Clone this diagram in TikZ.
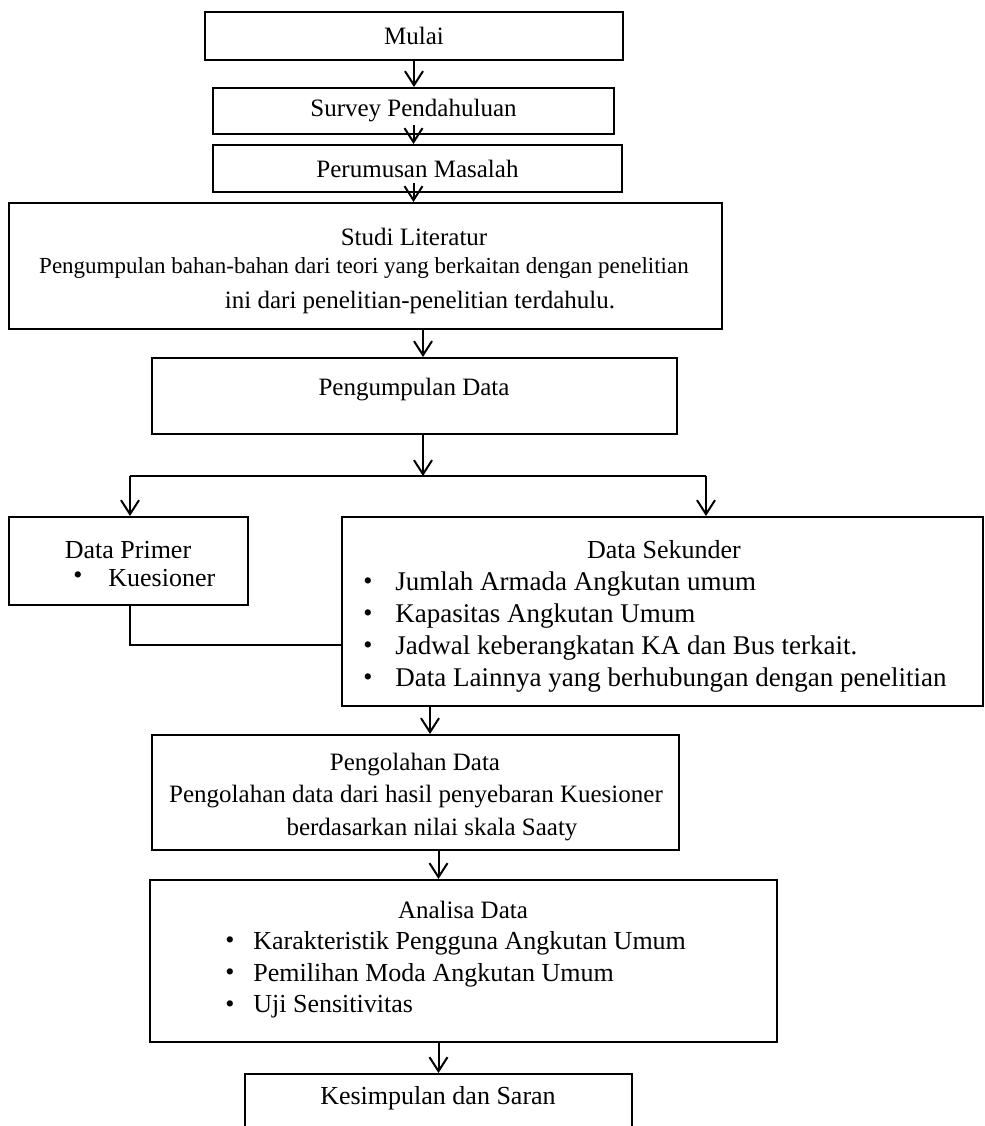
\documentclass[tikz,border=0pt]{standalone}
\usepackage{fontspec}
\setmainfont{Liberation Serif}
\usetikzlibrary{arrows.meta}
\newcommand{\px}{0.5pt}
\tikzstyle{box}=[draw,line width=1pt,inner sep=0pt,font=\fontsize{12.5}{15}\selectfont]
\tikzstyle{txt}=[inner sep=0pt,font=\fontsize{12.5}{15}\selectfont]
\tikzstyle{besar}=[inner sep=0pt,font=\fontsize{13}{15}\selectfont]
\tikzstyle{item}=[besar,anchor=west]
\tikzstyle{flow}=[line width=1pt,-{Straight Barb[length=7pt,width=9pt,line width=1pt]}]
\tikzstyle{link}=[line width=1pt]

\begin{document}
\begin{tikzpicture}[x=\px,y=-\px]
    \clip (0,0) rectangle (985,1126);
    \node[box,minimum width=418*\px,minimum height=48*\px] (mulai) at (414,36) {Mulai};
    \node[box,minimum width=401*\px,minimum height=46*\px] (survei) at (413.5,111) {Survey Pendahuluan};
    \node[box,minimum width=409*\px,minimum height=47*\px] (rumusan) at (417.5,168.5) {Perumusan Masalah};
    \node[box,minimum width=713*\px,minimum height=126*\px] (studi) at (365.5,266) {};
    \node[txt] (studi1) at (414,237) {Studi Literatur};
    \node[txt,font=\fontsize{11.5}{14}\selectfont] (studi2) at (364,268) {Pengumpulan bahan-bahan dari teori yang berkaitan dengan penelitian};
    \node[txt] (studi3) at (420,302) {ini dari penelitian-penelitian terdahulu.};
    \node[box,minimum width=525*\px,minimum height=76*\px] (kumpul) at (414.5,396) {};
    \node[txt] (kumpul1) at (414,390) {Pengumpulan Data};
%    data primer dan sekunder
    \node[box,minimum width=239*\px,minimum height=88*\px] (primer) at (128.5,561) {};
    \node[besar] (primer1) at (128,550) {Data Primer};
    \node[besar] (pd1) at (78,578) {\textbullet};
    \node[item] (p1) at (108,578) {Kuesioner};
    \node[box,minimum width=641*\px,minimum height=189*\px] (sekunder) at (662.5,611.5) {};
    \node[besar] (sekunder1) at (664,550) {Data Sekunder};
    \foreach \n/\yy in {1/584,2/616,3/648,4/680}
        \node[besar] (sd\n) at (368,\yy) {\textbullet};
    \tikzstyle{item}=[inner sep=0pt,anchor=west,font=\fontsize{13.5}{15}\selectfont]
    \node[item] (s1) at (395,584) {Jumlah Armada Angkutan umum};
    \node[item] (s2) at (395,616) {Kapasitas Angkutan Umum};
    \node[item] (s3) at (395,648) {Jadwal keberangkatan KA dan Bus terkait.};
    \node[item] (s4) at (395,680) {Data Lainnya yang berhubungan dengan penelitian};
    \tikzstyle{item}=[besar,anchor=west]
%    olah dan analisa
    \node[box,minimum width=527*\px,minimum height=115*\px] (olah) at (415.5,792.5) {};
    \node[txt] (olah1) at (415,765) {Pengolahan Data};
    \node[txt] (olah2) at (416,797) {Pengolahan data dari hasil penyebaran Kuesioner};
    \node[txt] (olah3) at (432,830) {berdasarkan nilai skala Saaty};
    \node[box,minimum width=627*\px,minimum height=162*\px] (analisa) at (463.5,961) {};
    \node[txt] (analisa1) at (463,910) {Analisa Data};
    \foreach \n/\yy in {1/943,2/975,3/1007}
        \node[besar] (ad\n) at (230,\yy) {\textbullet};
    \node[item] (a1) at (253,943) {Karakteristik Pengguna Angkutan Umum};
    \node[item] (a2) at (253,975) {Pemilihan Moda Angkutan Umum};
    \node[item] (a3) at (253,1007) {Uji Sensitivitas};
    \node[box,minimum width=387*\px,minimum height=100*\px] (simpul) at (438.5,1124) {};
    \node[besar] (simpul1) at (438,1098) {Kesimpulan dan Saran};
%    cabang
    \coordinate (cab) at (423,476);
    \coordinate (kiri) at (130,476);
    \coordinate (kanan) at (706,476);
    \coordinate (siku) at (130,645);
    \coordinate (turun) at (430,0);
    \draw[flow] (mulai.south) -- (mulai.south |- survei.north);
    \draw[flow] ([yshift=5pt]survei.south) -- (survei.south |- rumusan.north);
    \draw[flow] ([yshift=5pt]rumusan.south -| survei.south) -- (survei.south |- studi.north);
    \draw[flow] (studi.south -| cab) -- (kumpul.north -| cab);
    \draw[flow] (kumpul.south -| cab) -- (cab);
    \draw[link] (kiri) -- (kanan);
    \draw[flow] (kiri) -- (kiri |- primer.north);
    \draw[flow] (kanan) -- (kanan |- sekunder.north);
    \draw[link] (primer.south -| siku) -- (siku) -- (siku -| sekunder.west);
    \draw[flow] (sekunder.south -| turun) -- (olah.north -| turun);
    \draw[flow] (olah.south -| simpul.north) -- (analisa.north -| simpul.north);
    \draw[flow] (analisa.south -| simpul.north) -- (simpul.north);
\end{tikzpicture}
\end{document}
